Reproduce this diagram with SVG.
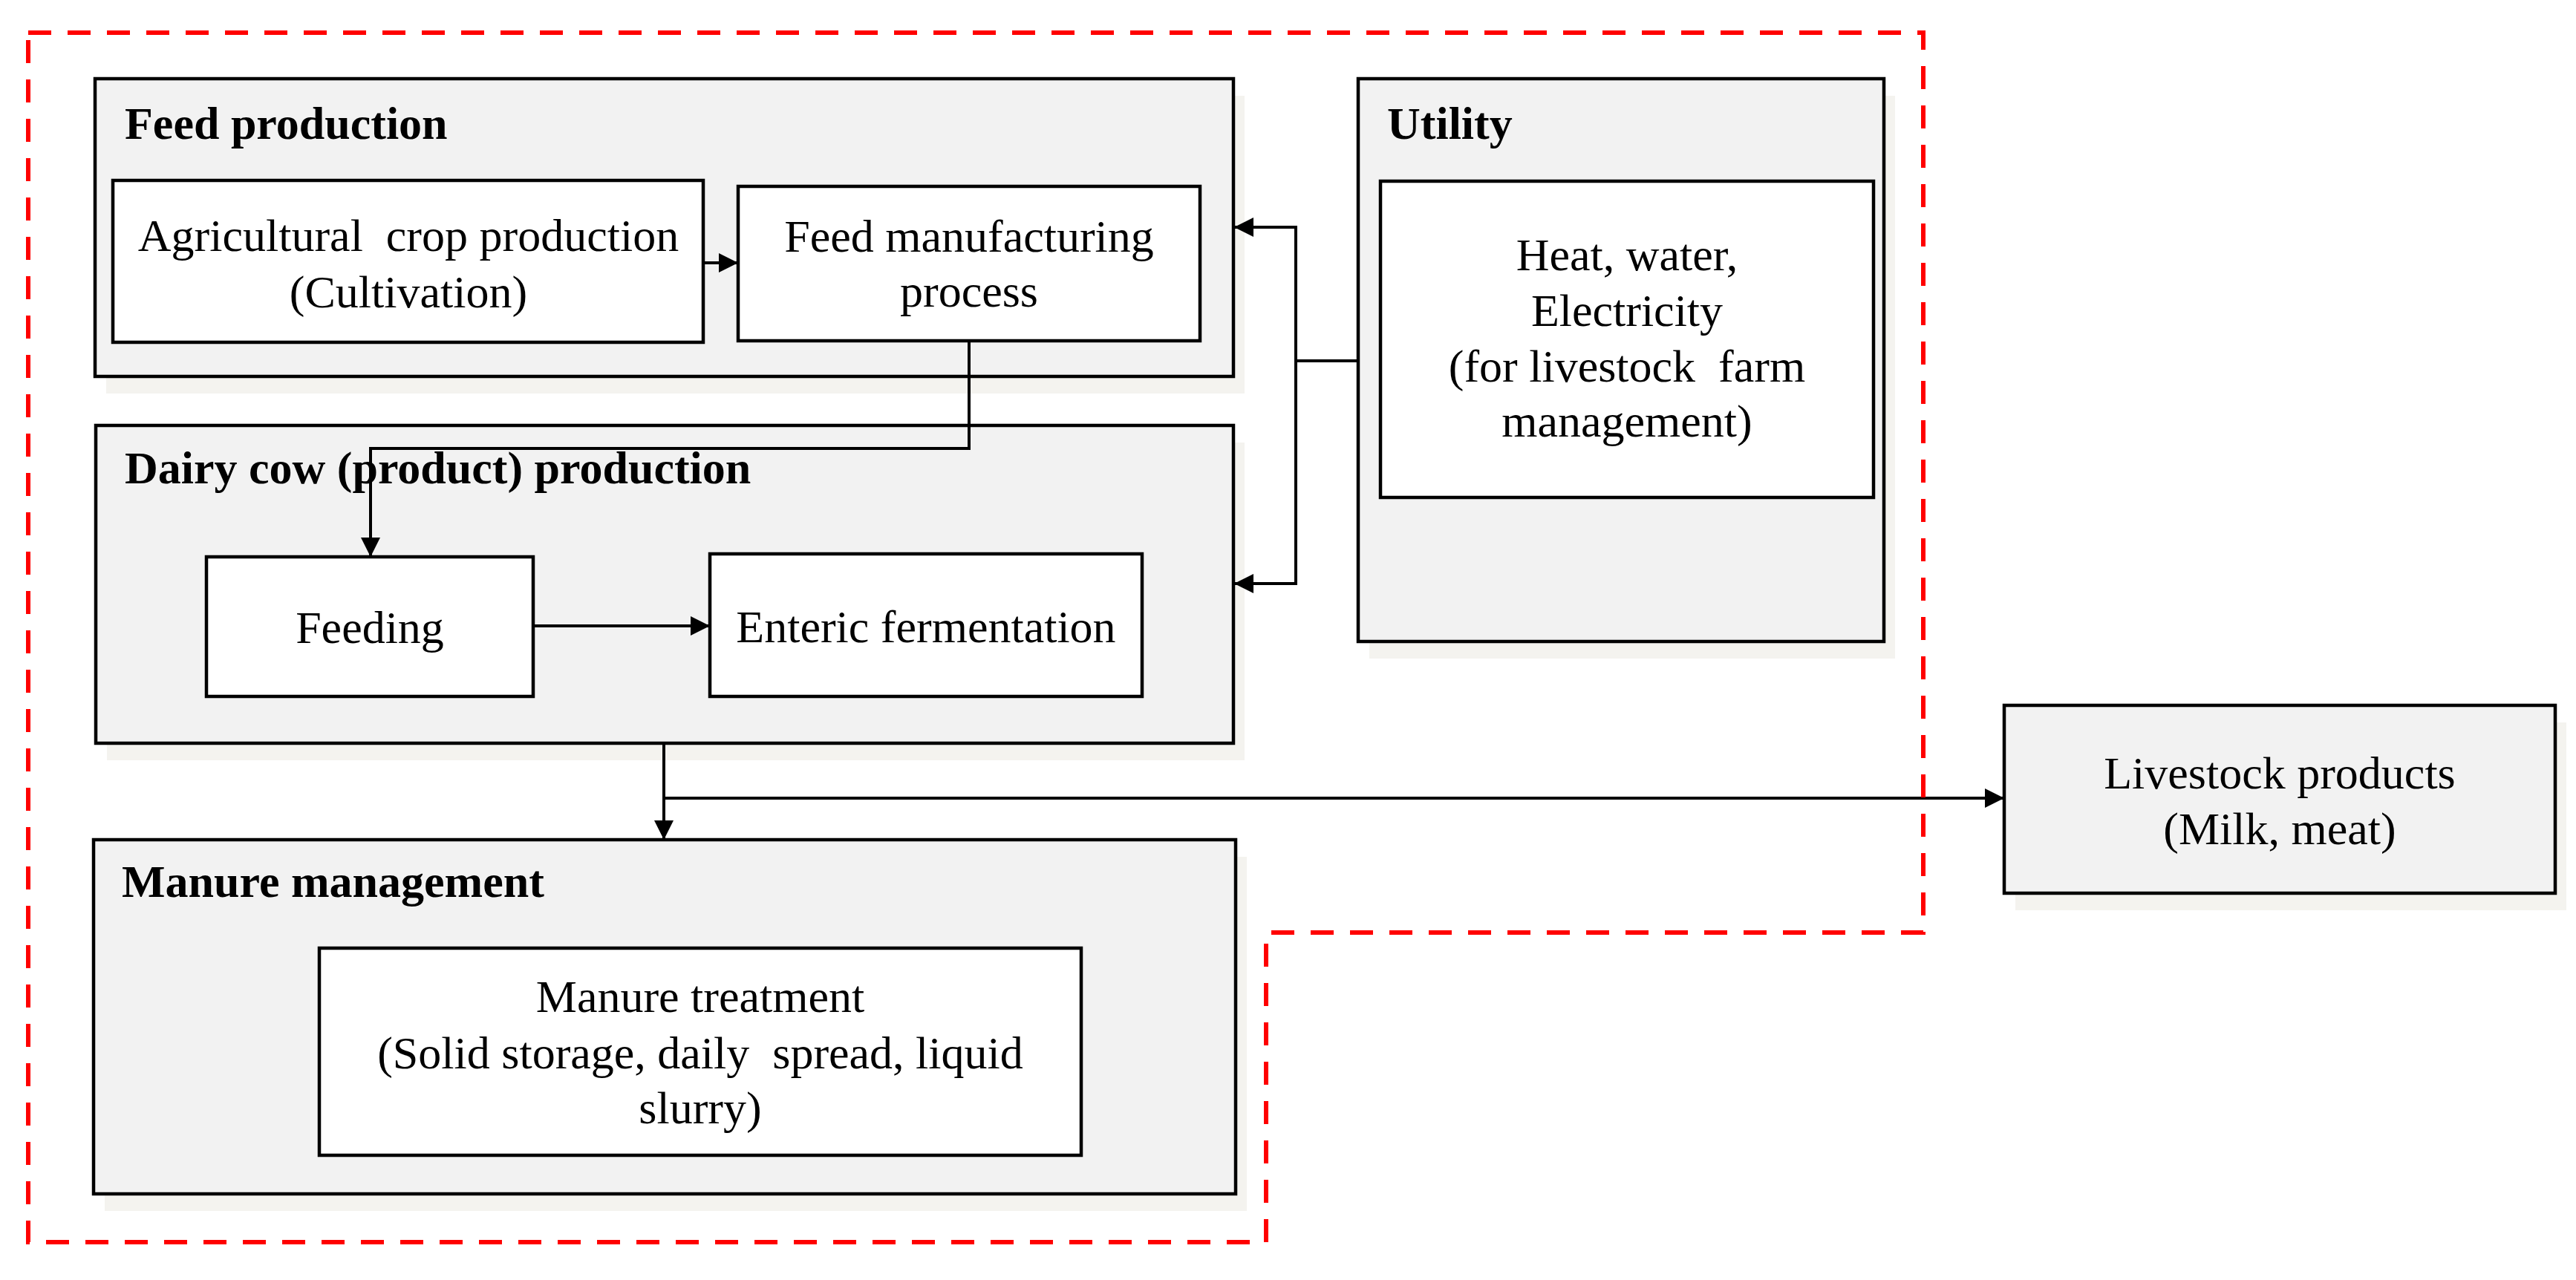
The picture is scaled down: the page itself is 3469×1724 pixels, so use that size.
<svg xmlns="http://www.w3.org/2000/svg" width="3469" height="1724" viewBox="0 0 3469 1724">
<style>
.bg{fill:#ffffff}
.outer{fill:#f2f2f2;stroke:#000;stroke-width:4.5}
.inner{fill:#ffffff;stroke:#000;stroke-width:4.5}
.shadow{fill:#f4f3ef;stroke:none}
.title{font-family:"Liberation Serif","Times New Roman",serif;font-size:62px;font-weight:bold;fill:#000}
.lbl{font-family:"Liberation Serif","Times New Roman",serif;font-size:62px;fill:#000;text-anchor:middle;white-space:pre}
.conn{fill:none;stroke:#000;stroke-width:4}
.boundary{fill:none;stroke:#ff0000;stroke-width:6;stroke-dasharray:31 22}
</style>
<defs>
<marker id="arr" markerUnits="userSpaceOnUse" viewBox="0 0 26 26" markerWidth="26" markerHeight="26" refX="26" refY="13" orient="auto">
<path d="M0,0 L26,13 L0,26 Z" fill="#000"/>
</marker>
</defs>
<rect class="bg" x="0" y="0" width="3469" height="1724"/>

<g id="feed-production">
<rect class="shadow" x="143" y="129" width="1533" height="401"/>
<rect class="outer" x="128" y="106" width="1533" height="401"/>
<text class="title" x="168" y="187">Feed production</text>
</g>
<g id="agri-crop">
<rect class="inner" x="152" y="243" width="795" height="218"/>
<text class="lbl" x="550" y="338" xml:space="preserve">Agricultural  crop production</text>
<text class="lbl" x="550" y="414">(Cultivation)</text>
</g>
<g id="feed-manufacturing">
<rect class="inner" x="994" y="251" width="622" height="208"/>
<text class="lbl" x="1305" y="339">Feed manufacturing</text>
<text class="lbl" x="1305" y="413">process</text>
</g>

<g id="utility">
<rect class="shadow" x="1844" y="129" width="708" height="758"/>
<rect class="outer" x="1829" y="106" width="708" height="758"/>
<text class="title" x="1868" y="187">Utility</text>
</g>
<g id="heat-water-electricity">
<rect class="inner" x="1859" y="244" width="664" height="426"/>
<text class="lbl" x="2191" y="364">Heat, water,</text>
<text class="lbl" x="2191" y="439">Electricity</text>
<text class="lbl" x="2191" y="514" xml:space="preserve">(for livestock  farm</text>
<text class="lbl" x="2191" y="588">management)</text>
</g>

<g id="dairy-production">
<rect class="shadow" x="144" y="596" width="1532" height="428"/>
<rect class="outer" x="129" y="573" width="1532" height="428"/>
<text class="title" x="168" y="651">Dairy cow (product) production</text>
</g>
<g id="feeding">
<rect class="inner" x="278" y="750" width="440" height="188"/>
<text class="lbl" x="498" y="866">Feeding</text>
</g>
<g id="enteric-fermentation">
<rect class="inner" x="956" y="746" width="582" height="192"/>
<text class="lbl" x="1247" y="865">Enteric fermentation</text>
</g>

<g id="manure-management">
<rect class="shadow" x="141" y="1154" width="1538" height="477"/>
<rect class="outer" x="126" y="1131" width="1538" height="477"/>
<text class="title" x="164" y="1208">Manure management</text>
</g>
<g id="manure-treatment">
<rect class="inner" x="430" y="1277" width="1026" height="279"/>
<text class="lbl" x="943" y="1363">Manure treatment</text>
<text class="lbl" x="943" y="1439" xml:space="preserve">(Solid storage, daily  spread, liquid</text>
<text class="lbl" x="943" y="1513">slurry)</text>
</g>

<g id="livestock-products">
<rect class="shadow" x="2714" y="973" width="742" height="253"/>
<rect class="outer" x="2699" y="950" width="742" height="253"/>
<text class="lbl" x="3070" y="1062">Livestock products</text>
<text class="lbl" x="3070" y="1137">(Milk, meat)</text>
</g>

<g id="connectors">
<path class="conn" d="M947,354 H994" marker-end="url(#arr)"/>
<path class="conn" d="M1305,459 V604 H499 V750" marker-end="url(#arr)"/>
<path class="conn" d="M718,843 H956" marker-end="url(#arr)"/>
<path class="conn" d="M1829,486 H1745"/>
<path class="conn" d="M1745,486 V306 H1662" marker-end="url(#arr)"/>
<path class="conn" d="M1745,486 V786 H1662" marker-end="url(#arr)"/>
<path class="conn" d="M894,1001 V1131" marker-end="url(#arr)"/>
<path class="conn" d="M894,1075 H2699" marker-end="url(#arr)"/>
</g>

<g id="system-boundary">
<path class="boundary" d="M38,44 H2590 V1256 H1705 V1673 H38 Z"/>
</g>
</svg>
